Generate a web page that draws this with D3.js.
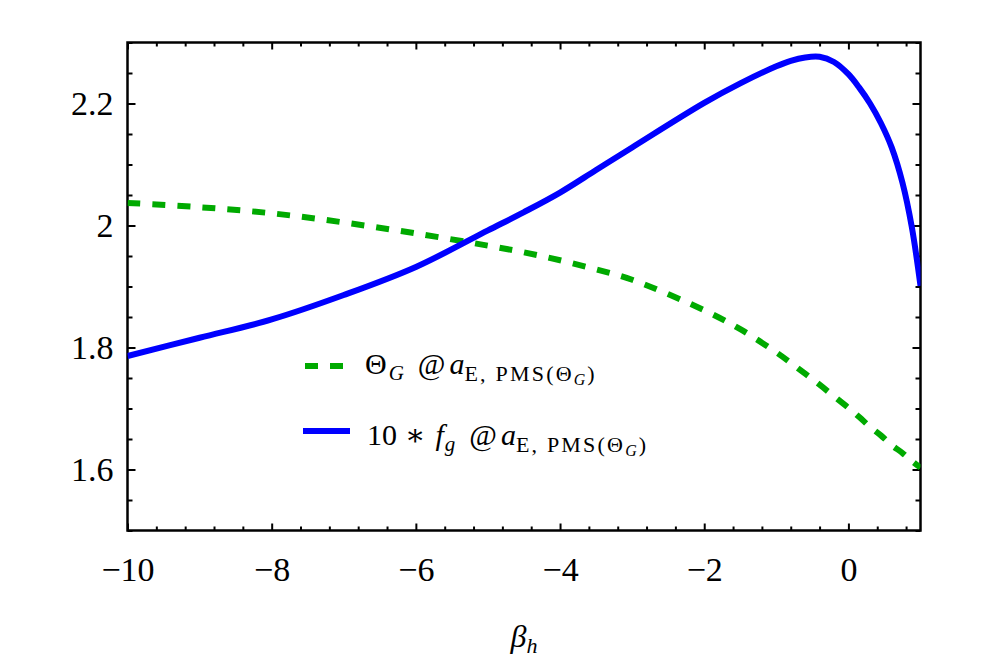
<!DOCTYPE html>
<html>
<head>
<meta charset="utf-8">
<script src="https://cdn.jsdelivr.net/npm/d3@7"></script>
<style>
  body { margin: 0; background: #fff; }
  text { font-family: "Liberation Serif", "DejaVu Serif", serif; fill: #000; }
</style>
</head>
<body>
<div id="chart"></div>
<script>
// values
var betaH = [-10, -9, -8, -7, -6, -5, -4.5, -4, -3.5, -3, -2, -1.5, -1, -0.8, -0.6, -0.4, -0.2, 0, 0.15, 0.3, 0.45, 0.6, 0.75, 0.88, 1];
var thetaG = [2.037, 2.030, 2.020, 2.005, 1.987, 1.967, 1.956, 1.943, 1.928, 1.911, 1.861, 1.830, 1.792, 1.775, 1.757, 1.739, 1.720, 1.701, 1.686, 1.670, 1.656, 1.640, 1.627, 1.614, 1.603];
var fgTimes10 = [1.786, 1.816, 1.846, 1.886, 1.932, 1.992, 2.022, 2.054, 2.091, 2.128, 2.201, 2.233, 2.261, 2.270, 2.2755, 2.2765, 2.268, 2.248, 2.226, 2.200, 2.168, 2.128, 2.070, 1.997, 1.901];

var xMajor = [-10, -8, -6, -4, -2, 0];
var yMajor = [1.6, 1.8, 2, 2.2];

(function(){
  var width = 997,
    height = 664;
  var left = 127.5, right = 920.5, top = 42.5, bottom = 530.5;

  var svg = d3.select("#chart")
    .append("svg")
    .attr("width", width)
    .attr("height", height)

  var x = d3.scaleLinear().domain([-10, 1]).range([left, right])
  var y = d3.scaleLinear().domain([1.5, 2.3]).range([bottom, top])

  var xMinor = d3.range(-10, 1.0001, 0.4).filter(function(v){
    return xMajor.every(function(m){ return Math.abs(m - v) > 1e-6 })
  })
  var yMinor = d3.range(1.5, 2.3001, 0.05).filter(function(v){
    return yMajor.every(function(m){ return Math.abs(m - v) > 1e-6 })
  })

  var fmt = d3.format("~g")

  //ticks point inward on all four sides
  function ticks(axis, vals, size, pad){
    return axis(axis === d3.axisBottom || axis === d3.axisTop ? x : y)
      .tickValues(vals)
      .tickSizeInner(-size)
      .tickSizeOuter(0)
      .tickFormat(pad ? fmt : "")
      .tickPadding(pad || 0)
  }

  var axes = svg.append("g").attr("class", "axes")

  axes.append("g").attr("transform", "translate(0," + bottom + ")").call(ticks(d3.axisBottom, xMajor, 7, 26))
  axes.append("g").attr("transform", "translate(0," + bottom + ")").call(ticks(d3.axisBottom, xMinor, 4))
  axes.append("g").attr("transform", "translate(0," + top + ")").call(ticks(d3.axisTop, xMajor, 7))
  axes.append("g").attr("transform", "translate(0," + top + ")").call(ticks(d3.axisTop, xMinor, 4))
  axes.append("g").attr("transform", "translate(" + left + ",0)").call(ticks(d3.axisLeft, yMajor, 8, 14))
  axes.append("g").attr("transform", "translate(" + left + ",0)").call(ticks(d3.axisLeft, yMinor, 5))
  axes.append("g").attr("transform", "translate(" + right + ",0)").call(ticks(d3.axisRight, yMajor, 8))
  axes.append("g").attr("transform", "translate(" + right + ",0)").call(ticks(d3.axisRight, yMinor, 5))

  axes.selectAll(".domain").remove()
  axes.selectAll(".tick line").attr("stroke", "#000").attr("stroke-width", 2)
  axes.selectAll(".tick text")
    .style("font-size", "34px")
    .style("font-family", "'Liberation Serif', serif")
    .attr("fill", "#000")

  //frame
  svg.append("rect")
    .attr("x", left)
    .attr("y", top)
    .attr("width", right - left)
    .attr("height", bottom - top)
    .attr("fill", "none")
    .attr("stroke", "#000")
    .attr("stroke-width", 2.5)

  svg.append("clipPath").attr("id", "clip")
    .append("rect")
    .attr("x", left).attr("y", top)
    .attr("width", right - left).attr("height", bottom - top)

  var series = [
    { name: "theta", values: thetaG, color: "#00aa00", dash: "13,12", w: 6 },
    { name: "fg", values: fgTimes10, color: "#0000ff", dash: null, w: 6 }
  ]

  var line = d3.line()
    .x(function(d){ return x(d[0]) })
    .y(function(d){ return y(d[1]) })
    .curve(d3.curveCatmullRom.alpha(0.5))

  svg.append("g")
    .attr("clip-path", "url(#clip)")
    .selectAll("path")
    .data(series)
    .enter().append("path")
    .attr("d", function(s){
      return line(betaH.map(function(b, i){ return [b, s.values[i]] }))
    })
    .attr("fill", "none")
    .attr("stroke", function(s){ return s.color })
    .attr("stroke-width", function(s){ return s.w })
    .attr("stroke-dasharray", function(s){ return s.dash })

  //legend
  var legend = svg.append("g").attr("transform", "translate(303,0)")
  var rows = [366, 431]

  series.forEach(function(s, i){
    legend.append("line")
      .attr("x1", s.dash ? 2 : 0).attr("x2", 47)
      .attr("y1", rows[i]).attr("y2", rows[i])
      .attr("stroke", s.color)
      .attr("stroke-width", s.w)
      .attr("stroke-dasharray", s.dash)
  })

  function subLabel(t){
    t.append("tspan").attr("dx", 14).text("@")
    t.append("tspan").attr("dx", 4).style("font-style", "italic").text("a")
    t.append("tspan").attr("baseline-shift", "-7").style("font-size", "22px").style("letter-spacing", "2.2px").text("E, PMS(Θ")
    t.append("tspan").attr("baseline-shift", "-11").style("font-size", "16px").style("font-style", "italic").text("G")
    t.append("tspan").attr("dx", 2).attr("baseline-shift", "-7").style("font-size", "22px").text(")")
  }

  var t1 = legend.append("text")
    .attr("x", 62).attr("y", rows[0] + 8)
    .style("font-size", "30px")
  t1.append("tspan").text("Θ")
  t1.append("tspan").attr("dx", 2).attr("baseline-shift", "-6").style("font-size", "21px").style("font-style", "italic").text("G")
  subLabel(t1)

  var t2 = legend.append("text")
    .attr("x", 64).attr("y", rows[1] + 14)
    .style("font-size", "30px")
  t2.append("tspan").text("10")
  t2.append("tspan").attr("dx", 8).text("∗")
  t2.append("tspan").attr("dx", 10).style("font-style", "italic").text("f")
  t2.append("tspan").attr("dx", 1).attr("baseline-shift", "-6").style("font-size", "21px").style("font-style", "italic").text("g")
  subLabel(t2)

  //x axis title
  var xt = svg.append("text")
    .attr("x", (left + right) / 2)
    .attr("y", 647)
    .attr("text-anchor", "middle")
    .style("font-size", "32px")
  xt.append("tspan").style("font-style", "italic").text("β")
  xt.append("tspan").attr("baseline-shift", "-6").style("font-size", "22px").style("font-style", "italic").text("h")

})();
</script>
</body>
</html>
